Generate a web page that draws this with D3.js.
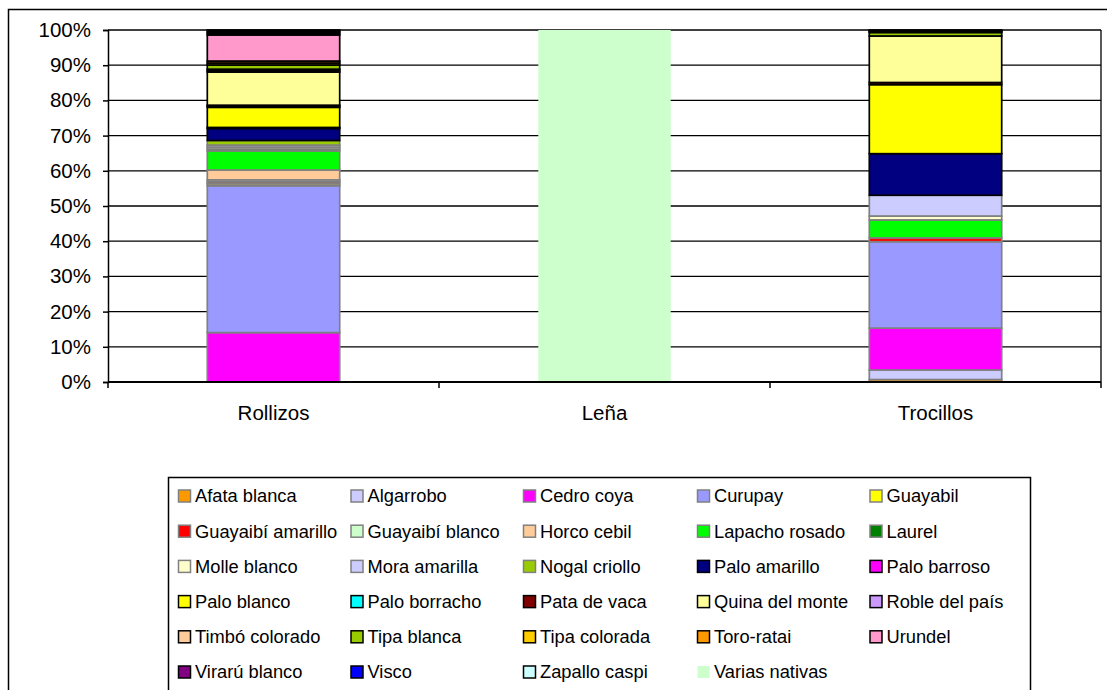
<!DOCTYPE html>
<html>
<head>
<meta charset="utf-8">
<script src="https://cdn.jsdelivr.net/npm/d3@7"></script>
<style>
  html, body { margin: 0; padding: 0; background: #fff; overflow: hidden; }
  svg { display: block; font-family: "Liberation Sans", Arial, sans-serif; }
</style>
</head>
<body>
<svg id="chart" width="1107" height="690"></svg>
<script>
// ---------------- DATA ----------------
const categories = ["Rollizos", "Leña", "Trocillos"];
const species = [
  "Afata blanca", "Algarrobo", "Cedro coya", "Curupay", "Guayabil",
  "Guayaibí amarillo", "Guayaibí blanco", "Horco cebil", "Lapacho rosado", "Laurel",
  "Molle blanco", "Mora amarilla", "Nogal criollo", "Palo amarillo", "Palo barroso",
  "Palo blanco", "Palo borracho", "Pata de vaca", "Quina del monte", "Roble del país",
  "Timbó colorado", "Tipa blanca", "Tipa colorada", "Toro-ratai", "Urundel",
  "Virarú blanco", "Visco", "Zapallo caspi", "Varias nativas"
];
// percentage shares, same order as species
const rollizos = [0, 0, 14.0, 41.6, 0.55, 0.55, 0.55, 2.8, 5.4, 0.55,
                  0.55, 0.55, 1.3, 3.4, 0.3, 5.7, 0.3, 0.3, 9.4, 0.4,
                  0.4, 1.2, 0.55, 0.55, 7.4, 0.47, 0.47, 0.46, 0];
const lena     = [0, 0, 0, 0, 0, 0, 0, 0, 0, 0,
                  0, 0, 0, 0, 0, 0, 0, 0, 0, 0,
                  0, 0, 0, 0, 0, 0, 0, 0, 100];
const trocillos = [0.7, 2.7, 11.9, 24.5, 0, 1.1, 0, 0, 5.1, 0,
                   1.1, 5.9, 0, 11.8, 0, 19.6, 0, 0.6, 13.2, 0,
                   0, 1.0, 0.25, 0.25, 0.2, 0, 0, 0, 0];
const yTicks = [0, 0.1, 0.2, 0.3, 0.4, 0.5, 0.6, 0.7, 0.8, 0.9, 1.0];

// ---------------- STYLES ----------------
const fills = [
  "#FF9900", "#CCCCFF", "#FF00FF", "#9999FF", "#FFFF00",
  "#FF0000", "#CCFFCC", "#FFCC99", "#00FF00", "#008000",
  "#FFFFCC", "#CCCCFF", "#99CC00", "#000080", "#FF00FF",
  "#FFFF00", "#00FFFF", "#800000", "#FFFF99", "#CC99FF",
  "#FFCC99", "#99CC00", "#FFCC00", "#FF9900", "#FF99CC",
  "#800080", "#0000FF", "#CCFFFF", "#CCFFCC"
];
const borders = species.map((s, i) => i === 28 ? "none" : (i < 13 ? "#808080" : "#000000"));

// ---------------- BUILD ----------------
const valuesByCat = [rollizos, lena, trocillos];
const table = categories.map((c, ci) => {
  const row = { cat: c };
  species.forEach((s, si) => { row[s] = valuesByCat[ci][si]; });
  return row;
});

const svg = d3.select("#chart");
const plot = { left: 108, right: 1101, top: 30, bottom: 382 };

// outer chart border
svg.append("rect")
  .attr("x", 8.5).attr("y", 9.5)
  .attr("width", 1120).attr("height", 700)
  .attr("fill", "none").attr("stroke", "#000").attr("stroke-width", 1.5);

const x = d3.scaleBand().domain(categories)
  .range([plot.left, plot.right]).paddingInner(0.6).paddingOuter(0.3);
const y = d3.scaleLinear().domain([0, 1]).range([plot.bottom, plot.top]);

// gridlines
svg.append("g").selectAll("line").data(yTicks).join("line")
  .attr("x1", plot.left).attr("x2", plot.right)
  .attr("y1", d => y(d)).attr("y2", d => y(d))
  .attr("stroke", "#000").attr("stroke-width", 1.3);

// right border of plot area
svg.append("line")
  .attr("x1", plot.right).attr("x2", plot.right)
  .attr("y1", plot.top).attr("y2", plot.bottom)
  .attr("stroke", "#000").attr("stroke-width", 1.3);

// stacked bars
const stack = d3.stack().keys(species).offset(d3.stackOffsetExpand);
const layers = stack(table);
const gBars = svg.append("g");
layers.forEach((layer, li) => {
  gBars.append("g")
    .selectAll("rect")
    .data(layer.filter(d => d[1] - d[0] > 0))
    .join("rect")
    .attr("x", d => x(d.data.cat))
    .attr("width", x.bandwidth())
    .attr("y", d => y(d[1]))
    .attr("height", d => y(d[0]) - y(d[1]))
    .attr("fill", fills[li])
    .attr("stroke", borders[li])
    .attr("stroke-width", borders[li] === "none" ? 0 : 1.7);
});

// y axis
const yAxis = d3.axisLeft(y).tickValues(yTicks).tickFormat(d3.format(".0%"))
  .tickSize(5).tickPadding(12);
const gy = svg.append("g").attr("transform", `translate(${plot.left},0)`).call(yAxis);
gy.select(".domain").attr("stroke", "#000").attr("stroke-width", 1.5);
gy.selectAll(".tick line").attr("stroke", "#000").attr("stroke-width", 1.5);
gy.selectAll(".tick text").attr("font-size", 20.5).attr("fill", "#000")
  .attr("font-family", "Liberation Sans, Arial, sans-serif");

// x axis (ticks between categories)
const gx = svg.append("g");
gx.append("line")
  .attr("x1", plot.left).attr("x2", plot.right)
  .attr("y1", plot.bottom).attr("y2", plot.bottom)
  .attr("stroke", "#000").attr("stroke-width", 1.8);
const boundaries = d3.range(categories.length + 1).map(i => plot.left + i * (plot.right - plot.left) / categories.length);
gx.selectAll("line.tk").data(boundaries).join("line").attr("class", "tk")
  .attr("x1", d => d).attr("x2", d => d)
  .attr("y1", plot.bottom).attr("y2", plot.bottom + 6)
  .attr("stroke", "#000").attr("stroke-width", 1.5);
gx.selectAll("text").data(categories).join("text")
  .attr("x", d => x(d) + x.bandwidth() / 2)
  .attr("y", 420)
  .attr("text-anchor", "middle")
  .attr("font-size", 20.5)
  .text(d => d);

// legend
const leg = { x: 168, y: 477, w: 862, h: 240 };
svg.append("rect")
  .attr("x", leg.x + 0.5).attr("y", leg.y + 0.5)
  .attr("width", leg.w).attr("height", leg.h)
  .attr("fill", "#fff").attr("stroke", "#000").attr("stroke-width", 1.5);
const colX = [178, 350.5, 523, 697, 869.5];
const rowY0 = 496, rowStep = 35.2;
const gl = svg.append("g").selectAll("g").data(species).join("g")
  .attr("transform", (d, i) => `translate(${colX[i % 5]},${rowY0 + Math.floor(i / 5) * rowStep})`);
gl.append("rect")
  .attr("x", 0.5).attr("y", -6)
  .attr("width", 12).attr("height", 12)
  .attr("fill", (d, i) => fills[i])
  .attr("stroke", (d, i) => borders[i])
  .attr("stroke-width", (d, i) => borders[i] === "none" ? 0 : 1.5);
gl.append("text")
  .attr("x", 17).attr("y", 0).attr("dy", "0.35em")
  .attr("font-size", 18.3)
  .text(d => d);
</script>
</body>
</html>
